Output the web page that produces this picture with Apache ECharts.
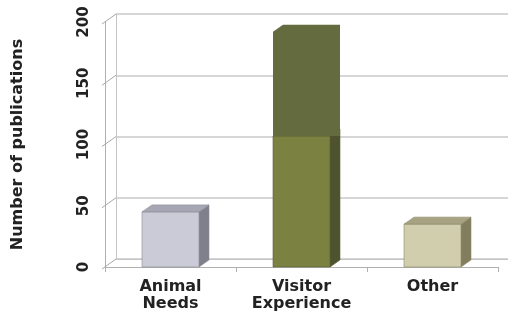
<!DOCTYPE html>
<html>
<head>
<meta charset="utf-8">
<script src="https://cdn.jsdelivr.net/npm/echarts@6/dist/echarts.min.js"></script>
<style>
  html, body { margin: 0; padding: 0; background: #fff; }
  #chart { width: 508px; height: 320px; }
</style>
</head>
<body>
<div id="chart"></div>
<script>
// Publication counts by research focus
const categories = ['Animal\nNeeds', 'Visitor\nExperience', 'Other'];
const baseValues = [45, 107, 35];   // lower block of each column
const upperValues = [0, 85, 0];     // darker upper block stacked on top
const yTicks = [0, 50, 100, 150, 200];

// Shading for the three faces of each box
const faceColors = [
  { front: '#cbcbd8', top: '#a6a6b4', side: '#80808c', edge: '#8a8a96' },
  { front: '#7a8141', top: '#5f6536', side: '#4e522f', edge: '#5a5f34' },
  { front: '#d1ceae', top: '#a7a282', side: '#817d5d', edge: '#8d896a' }
];
const upperColor = '#646b3e';

// Depth offset of the extruded boxes and of the back wall
const DX = 10, DY = -7;
const WALL_DX = 11, WALL_DY = -8;

function renderBase(params, api) {
  const i = api.value(0), v = api.value(1);
  const top = api.coord([i, v]);
  const bottom = api.coord([i, 0]);
  const w = api.size([1, 0])[0] * 0.435;
  const x0 = top[0] - w / 2, x1 = top[0] + w / 2, yt = top[1], yb = bottom[1];
  const c = faceColors[i];
  return {
    type: 'group',
    children: [
      { type: 'polygon', shape: { points: [[x1, yt], [x1 + DX, yt + DY], [x1 + DX, yb + DY], [x1, yb]] },
        style: { fill: c.side, stroke: c.edge, lineWidth: 0.6 } },
      { type: 'rect', shape: { x: x0, y: yt, width: w, height: yb - yt },
        style: { fill: c.front, stroke: c.edge, lineWidth: 0.6 } },
      { type: 'polygon', shape: { points: [[x0, yt], [x0 + DX, yt + DY], [x1 + DX, yt + DY], [x1, yt]] },
        style: { fill: c.top, stroke: c.edge, lineWidth: 0.6 } }
    ]
  };
}

function renderUpper(params, api) {
  const i = api.value(0), base = api.value(1), up = api.value(2);
  if (!up) return null;
  const top = api.coord([i, base + up]);
  const bottom = api.coord([i, base]);
  const w = api.size([1, 0])[0] * 0.435;
  const x0 = top[0] - w / 2, x1 = top[0] + w / 2, yt = top[1], yb = bottom[1];
  return {
    type: 'polygon',
    shape: { points: [[x0, yb], [x0, yt], [x0 + DX, yt + DY], [x1 + DX, yt + DY], [x1 + DX, yb]] },
    style: { fill: upperColor }
  };
}

// Short slanted connectors joining the front axis to the back wall
function renderConnector(params, api) {
  const v = api.value(1);
  const cs = params.coordSys;
  const y = api.coord([0, v])[1];
  return {
    type: 'line',
    shape: { x1: cs.x - 3, y1: y + 2, x2: cs.x + WALL_DX, y2: y + WALL_DY },
    style: { stroke: '#a8a8a8', lineWidth: 1 }
  };
}

const chart = echarts.init(document.getElementById('chart'), null, { renderer: 'canvas' });

const textFont = 'DejaVu Sans';

chart.setOption({
  animation: false,
  backgroundColor: '#ffffff',
  grid: [
    { left: 105, right: 10, top: 22, bottom: 53 },
    { left: 105 + WALL_DX, right: 0, top: 22 + WALL_DY, bottom: 53 - WALL_DY }
  ],
  xAxis: [
    {
      gridIndex: 0, type: 'category', data: categories,
      axisLine: { lineStyle: { color: '#b0b0b0', width: 1 } },
      axisTick: { show: true, length: 5, lineStyle: { color: '#b0b0b0' } },
      axisLabel: {
        interval: 0, hideOverlap: false,
        margin: 11, color: '#222', fontFamily: textFont, fontWeight: 'bold',
        fontSize: 16, lineHeight: 17
      }
    },
    {
      gridIndex: 1, type: 'category', data: categories,
      axisLine: { lineStyle: { color: '#c4c4c4', width: 1 } },
      axisTick: { show: false }, axisLabel: { show: false }
    }
  ],
  yAxis: [
    {
      gridIndex: 0, type: 'value', min: 0, max: 200, interval: 50,
      name: 'Number of publications', nameLocation: 'middle', nameGap: 79, nameRotate: 90,
      nameTextStyle: { color: '#222', fontFamily: textFont, fontWeight: 'bold', fontSize: 16 },
      axisLine: { show: true, lineStyle: { color: '#b0b0b0', width: 1 } },
      axisTick: { show: false },
      splitLine: { show: false },
      axisLabel: {
        rotate: 90, margin: 13, color: '#222', fontFamily: textFont,
        fontWeight: 'bold', fontSize: 15
      }
    },
    {
      gridIndex: 1, type: 'value', min: 0, max: 200, interval: 50,
      axisLine: { show: true, lineStyle: { color: '#c4c4c4', width: 1 } },
      axisTick: { show: false }, axisLabel: { show: false },
      splitLine: { show: true, lineStyle: { color: '#c8c8c8', width: 1.5 } }
    }
  ],
  series: [
    {
      type: 'custom', xAxisIndex: 0, yAxisIndex: 0, z: 1,
      renderItem: renderConnector,
      data: yTicks.map(v => [0, v])
    },
    {
      type: 'custom', xAxisIndex: 0, yAxisIndex: 0, z: 3,
      renderItem: renderBase,
      data: baseValues.map((v, i) => [i, v])
    },
    {
      type: 'custom', xAxisIndex: 0, yAxisIndex: 0, z: 4,
      renderItem: renderUpper,
      data: upperValues.map((v, i) => [i, baseValues[i], v])
    }
  ]
});
</script>
</body>
</html>
